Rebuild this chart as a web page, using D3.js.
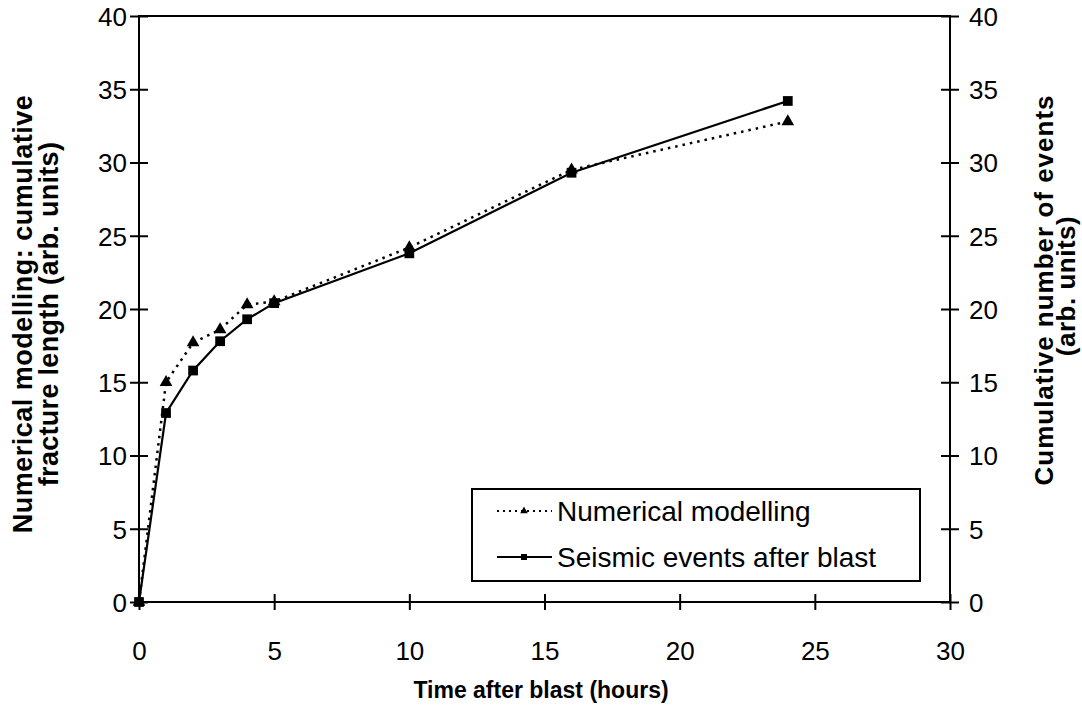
<!DOCTYPE html>
<html>
<head>
<meta charset="utf-8">
<script src="https://cdn.jsdelivr.net/npm/d3@7"></script>
<style>
  html, body { margin: 0; padding: 0; background: #fff; }
  svg { display: block; }
  text { font-family: "Liberation Sans", Arial, Helvetica, sans-serif; fill: #000; }
</style>
</head>
<body>
<svg id="chart" width="1082" height="717"></svg>
<script>
// Time after blast (hours)
const hours = [0, 1, 2, 3, 4, 5, 10, 16, 24];
// Numerical modelling: cumulative fracture length (arb. units)
const modelling = [0, 15.0, 17.7, 18.6, 20.3, 20.5, 24.2, 29.5, 32.8];
// Seismic events after blast: cumulative number of events (arb. units)
const seismic = [0, 12.9, 15.8, 17.8, 19.3, 20.4, 23.8, 29.3, 34.2];

const xTicks = [0, 5, 10, 15, 20, 25, 30];
const yTicks = [0, 5, 10, 15, 20, 25, 30, 35, 40];
const seriesNames = ["Numerical modelling", "Seismic events after blast"];

const svg = d3.select("#chart");
const plotLeft = 139, plotRight = 950, plotTop = 16, plotBottom = 602;

const x = d3.scaleLinear().domain([0, 30]).range([plotLeft, plotRight]);
const yL = d3.scaleLinear().domain([0, 40]).range([plotBottom, plotTop]);
const yR = d3.scaleLinear().domain([0, 40]).range([plotBottom, plotTop]);

// Frame
svg.append("rect")
  .attr("x", plotLeft).attr("y", plotTop)
  .attr("width", plotRight - plotLeft).attr("height", plotBottom - plotTop)
  .attr("fill", "none").attr("stroke", "#000").attr("stroke-width", 2);

// Axes: ticks cross the axis line
function styleAxis(g) {
  g.select(".domain").remove();
  g.selectAll(".tick line").attr("stroke", "#000").attr("stroke-width", 2);
  g.selectAll(".tick text").style("font-size", "26px")
    .style("font-family", "'Liberation Sans', Arial, sans-serif");
}

const gx = svg.append("g").attr("transform", `translate(0,${plotBottom})`)
  .call(d3.axisBottom(x).tickValues(xTicks).tickSize(9).tickPadding(31).tickFormat(d3.format("d")));
styleAxis(gx);
gx.selectAll(".tick line").attr("y1", -8).attr("y2", 8);

const gl = svg.append("g").attr("transform", `translate(${plotLeft},0)`)
  .call(d3.axisLeft(yL).tickValues(yTicks).tickSize(9).tickPadding(3).tickFormat(d3.format("d")));
styleAxis(gl);
gl.selectAll(".tick line").attr("x1", -9).attr("x2", 9);
gl.selectAll(".tick text").attr("dy", "0.36em");

const gr = svg.append("g").attr("transform", `translate(${plotRight},0)`)
  .call(d3.axisRight(yR).tickValues(yTicks).tickSize(9).tickPadding(10).tickFormat(d3.format("d")));
styleAxis(gr);
gr.selectAll(".tick line").attr("x1", -9).attr("x2", 9);
gr.selectAll(".tick text").attr("dy", "0.36em");

// Axis titles
function titleLine(parent, txt, xPos, yPos, size, spacing) {
  return parent.append("text")
    .attr("x", xPos).attr("y", yPos).attr("text-anchor", "middle")
    .style("font-size", size + "px").style("font-weight", "bold")
    .style("letter-spacing", spacing + "px")
    .text(txt);
}

titleLine(svg, "Time after blast (hours)", 541, 698, 23, 0);

// Rotated titles: the y offset of each line moves its baseline to the right
const leftTitle = svg.append("g").attr("transform", "translate(32,314) rotate(-90)");
titleLine(leftTitle, "Numerical modelling: cumulative", 0, 0, 27, 0.5);
titleLine(leftTitle, "fracture length (arb. units)", 0, 26, 27, 0.3);

const rightTitle = svg.append("g").attr("transform", "translate(1053,290) rotate(-90)");
titleLine(rightTitle, "Cumulative number of events", 0, 0, 26, 1);
titleLine(rightTitle, "(arb. units)", 4, 22, 26, 0.5);

// Series
const modelPts = hours.map((h, i) => [h, modelling[i]]);
const seisPts = hours.map((h, i) => [h, seismic[i]]);

svg.append("path")
  .datum(modelPts)
  .attr("fill", "none").attr("stroke", "#000").attr("stroke-width", 2.5)
  .attr("stroke-dasharray", "2.5,5").attr("stroke-linecap", "butt")
  .attr("d", d3.line().x(d => x(d[0])).y(d => yL(d[1])));

svg.append("path")
  .datum(seisPts)
  .attr("fill", "none").attr("stroke", "#000").attr("stroke-width", 2.2)
  .attr("d", d3.line().x(d => x(d[0])).y(d => yR(d[1])));

const tri = d3.symbol().type(d3.symbolTriangle).size(70);
const sq = d3.symbol().type(d3.symbolSquare).size(95);

svg.selectAll(".tri").data(modelPts).join("path")
  .attr("class", "tri")
  .attr("transform", d => `translate(${x(d[0])},${yL(d[1])})`)
  .attr("d", tri).attr("fill", "#000");

svg.selectAll(".sq").data(seisPts).join("path")
  .attr("class", "sq")
  .attr("transform", d => `translate(${x(d[0])},${yR(d[1])})`)
  .attr("d", sq).attr("fill", "#000");

// Legend
const lg = svg.append("g");
lg.append("rect").attr("x", 472).attr("y", 489).attr("width", 448).attr("height", 92)
  .attr("fill", "#fff").attr("stroke", "#000").attr("stroke-width", 2);

const rows = [
  { y: 511, dash: "2,4", sym: d3.symbol().type(d3.symbolTriangle).size(25) },
  { y: 557, dash: null, sym: d3.symbol().type(d3.symbolSquare).size(36) }
];
rows.forEach((r, i) => {
  lg.append("line").attr("x1", 497).attr("x2", 552).attr("y1", r.y).attr("y2", r.y)
    .attr("stroke", "#000").attr("stroke-width", 2)
    .attr("stroke-dasharray", r.dash);
  lg.append("path").attr("transform", `translate(524,${r.y})`).attr("d", r.sym).attr("fill", "#000");
  lg.append("text").attr("x", 557).attr("y", r.y + 10)
    .style("font-size", "28px").text(seriesNames[i]);
});
</script>
</body>
</html>
